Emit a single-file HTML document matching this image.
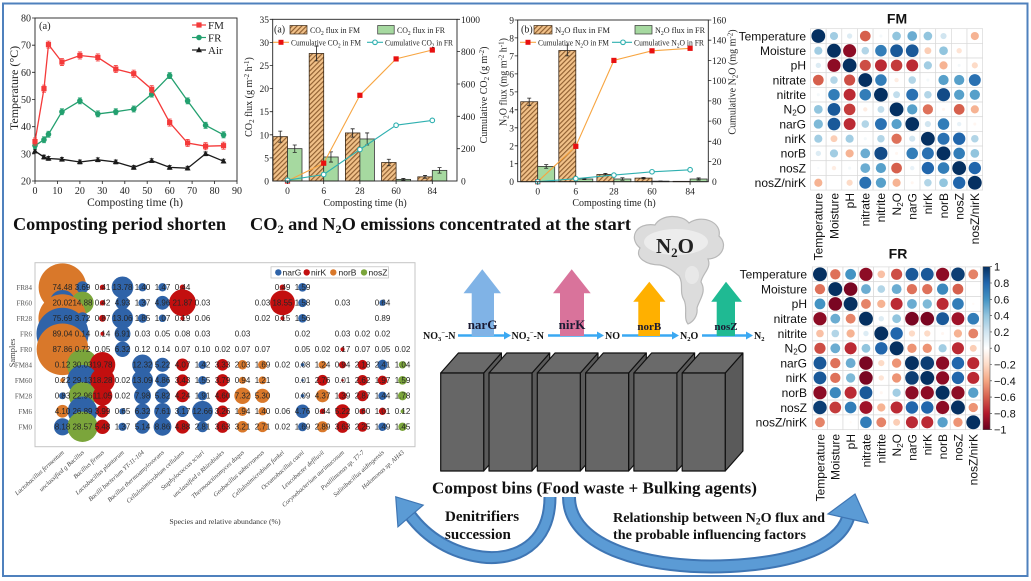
<!DOCTYPE html>
<html><head><meta charset="utf-8">
<style>
html,body{margin:0;padding:0;background:#fff;}
svg{display:block;}
.s{font-family:"Liberation Serif",serif;}
.a{font-family:"Liberation Sans",sans-serif;}
</style></head><body>
<svg id="c" width="1031" height="581" viewBox="0 0 1031 581" xmlns="http://www.w3.org/2000/svg">
<defs>
<pattern id="hatch" width="3.4" height="3.4" patternUnits="userSpaceOnUse" patternTransform="rotate(45)">
<rect width="3.4" height="3.4" fill="#f1c189"/>
<line x1="0.6" y1="0" x2="0.6" y2="3.4" stroke="#8a5a2c" stroke-width="1.1"/>
</pattern>
<linearGradient id="cbar" x1="0" y1="0" x2="0" y2="1">
<stop offset="0" stop-color="#053061"/><stop offset="0.1" stop-color="#2166AC"/><stop offset="0.2" stop-color="#4393C3"/><stop offset="0.3" stop-color="#92C5DE"/><stop offset="0.4" stop-color="#D1E5F0"/><stop offset="0.5" stop-color="#FFFFFF"/><stop offset="0.6" stop-color="#FDDBC7"/><stop offset="0.7" stop-color="#F4A582"/><stop offset="0.8" stop-color="#D6604D"/><stop offset="0.9" stop-color="#B2182B"/><stop offset="1" stop-color="#67001F"/>
</linearGradient>
</defs>
<rect width="1031" height="581" fill="#fff"/>

<!-- ============ Chart 1: temperature ============ -->
<g class="s" font-size="10" fill="#222">
<rect x="35" y="18" width="202" height="163" fill="none" stroke="#222" stroke-width="0.9"/>
<path d="M32 18H35M32 45.2H35M32 72.3H35M32 99.5H35M32 126.7H35M32 153.8H35M32 181H35M35 181V184M57.4 181V184M79.9 181V184M102.3 181V184M124.8 181V184M147.2 181V184M169.7 181V184M192.1 181V184M214.6 181V184M237 181V184" stroke="#222" stroke-width="0.8"/>
<g text-anchor="end"><text x="31" y="21.5">80</text><text x="31" y="48.7">70</text><text x="31" y="75.8">60</text><text x="31" y="103">50</text><text x="31" y="130.2">40</text><text x="31" y="157.3">30</text><text x="31" y="184.5">20</text></g>
<g text-anchor="middle"><text x="35" y="194">0</text><text x="57.4" y="194">10</text><text x="79.9" y="194">20</text><text x="102.3" y="194">30</text><text x="124.8" y="194">40</text><text x="147.2" y="194">50</text><text x="169.7" y="194">60</text><text x="192.1" y="194">70</text><text x="214.6" y="194">80</text><text x="237" y="194">90</text></g>
<text x="135" y="206" text-anchor="middle" font-size="11.5">Composting time  (h)</text>
<text transform="translate(18,88) rotate(-90)" text-anchor="middle" font-size="12">Temperature (°C)</text>
<text x="39" y="29" font-size="10.5">(a)</text>
<g id="g1"></g>
<g font-size="11">
<line x1="192" y1="25" x2="206" y2="25" stroke="#f43a3a" stroke-width="1.2"/><rect x="196.4" y="22.4" width="5.2" height="5.2" fill="#f43a3a"/><text x="208" y="29">FM</text>
<line x1="192" y1="37.5" x2="206" y2="37.5" stroke="#23a06f" stroke-width="1.2"/><circle cx="199" cy="37.5" r="2.8" fill="#23a06f"/><text x="208" y="41.5">FR</text>
<line x1="192" y1="50" x2="206" y2="50" stroke="#1a1a1a" stroke-width="1.2"/><path d="M199 46.8L202 52.2L196 52.2Z" fill="#1a1a1a"/><text x="208" y="54">Air</text>
</g>
</g>
<text class="s" x="13" y="230" font-size="18" font-weight="bold" fill="#111" textLength="213" lengthAdjust="spacingAndGlyphs">Composting period shorten</text>

<!-- ============ Chart 2: CO2 ============ -->
<g class="s" font-size="9.5" fill="#222">
<g id="g2"></g>
<rect x="272.7" y="19.3" width="184.3" height="161.7" fill="none" stroke="#222" stroke-width="0.9"/>
<path d="M269.7 19.3H272.7M269.7 42.4H272.7M269.7 65.5H272.7M269.7 88.6H272.7M269.7 111.7H272.7M269.7 134.8H272.7M269.7 157.9H272.7M457 19.3H460M457 51.6H460M457 84H460M457 116.3H460M457 148.7H460M287.5 181V184M323.7 181V184M359.9 181V184M396.1 181V184M432.3 181V184" stroke="#222" stroke-width="0.8"/>
<g text-anchor="end"><text x="269" y="22.8">35</text><text x="269" y="45.9">30</text><text x="269" y="69">25</text><text x="269" y="92.1">20</text><text x="269" y="115.2">15</text><text x="269" y="138.3">10</text><text x="269" y="161.4">5</text><text x="269" y="184.5">0</text></g>
<g><text x="461" y="22.8">1000</text><text x="461" y="55.1">800</text><text x="461" y="87.5">600</text><text x="461" y="119.8">400</text><text x="461" y="152.2">200</text><text x="461" y="184.5">0</text></g>
<g text-anchor="middle"><text x="287.5" y="194">0</text><text x="323.7" y="194">6</text><text x="359.9" y="194">28</text><text x="396.1" y="194">60</text><text x="432.3" y="194">84</text></g>
<text x="365" y="206" text-anchor="middle" font-size="10">Composting time (h)</text>
<text transform="translate(252,97) rotate(-90)" text-anchor="middle" font-size="10">CO<tspan dy="2" font-size="7">2</tspan><tspan dy="-2"> flux (g m</tspan><tspan dy="-3" font-size="7">-2</tspan><tspan dy="3"> h</tspan><tspan dy="-3" font-size="7">-1</tspan><tspan dy="3">)</tspan></text>
<text transform="translate(487,95) rotate(-90)" text-anchor="middle" font-size="10">Cumulative CO<tspan dy="2" font-size="7">2</tspan><tspan dy="-2"> (g m</tspan><tspan dy="-3" font-size="7">-2</tspan><tspan dy="3">)</tspan></text>
<g font-size="8.5">
<text x="274" y="32.5" font-size="10">(a)</text>
<rect x="290" y="25.5" width="17" height="8.5" fill="url(#hatch)" stroke="#3a2a1a" stroke-width="0.7"/><text x="310" y="33" textLength="50" lengthAdjust="spacingAndGlyphs">CO<tspan dy="2" font-size="6">2</tspan><tspan dy="-2"> flux in FM</tspan></text>
<rect x="377.7" y="25.5" width="16.5" height="8.5" fill="#a6d9a0" stroke="#333" stroke-width="0.7"/><text x="397" y="33" textLength="48" lengthAdjust="spacingAndGlyphs">CO<tspan dy="2" font-size="6">2</tspan><tspan dy="-2"> flux in FR</tspan></text>
<line x1="273" y1="42.3" x2="289" y2="42.3" stroke="#f7a541" stroke-width="1.1"/><rect x="278.5" y="39.8" width="5" height="5" fill="#e81010"/><text x="291" y="45.5" textLength="70" lengthAdjust="spacingAndGlyphs">Cumulative CO<tspan dy="2" font-size="6">2</tspan><tspan dy="-2"> in FM</tspan></text>
<line x1="367" y1="42.3" x2="383" y2="42.3" stroke="#2fb0b0" stroke-width="1.1"/><circle cx="375" cy="42.3" r="2.3" fill="#fff" stroke="#2fb0b0" stroke-width="1.1"/><text x="385" y="45.5" textLength="68" lengthAdjust="spacingAndGlyphs">Cumulative CO<tspan dy="2" font-size="6">2</tspan><tspan dy="-2"> in FR</tspan></text>
</g>
</g>

<!-- ============ Chart 3: N2O ============ -->
<g class="s" font-size="9.5" fill="#222">
<g id="g3"></g>
<rect x="517.7" y="20" width="190.6" height="161.7" fill="none" stroke="#222" stroke-width="0.9"/>
<path d="M514.7 20H517.7M514.7 37.9H517.7M514.7 55.9H517.7M514.7 73.9H517.7M514.7 91.85H517.7M514.7 109.8H517.7M514.7 127.8H517.7M514.7 145.8H517.7M514.7 163.7H517.7M708.3 20H711.3M708.3 40.2H711.3M708.3 60.4H711.3M708.3 80.6H711.3M708.3 100.9H711.3M708.3 121.1H711.3M708.3 141.3H711.3M708.3 161.5H711.3M537.7 181.7V184.7M575.8 181.7V184.7M613.9 181.7V184.7M652 181.7V184.7M690.1 181.7V184.7" stroke="#222" stroke-width="0.8"/>
<g text-anchor="end"><text x="514" y="23.5">9</text><text x="514" y="41.4">8</text><text x="514" y="59.4">7</text><text x="514" y="77.4">6</text><text x="514" y="95.3">5</text><text x="514" y="113.3">4</text><text x="514" y="131.3">3</text><text x="514" y="149.3">2</text><text x="514" y="167.2">1</text><text x="514" y="185.2">0</text></g>
<g><text x="712" y="23.5">160</text><text x="712" y="43.7">140</text><text x="712" y="63.9">120</text><text x="712" y="84.1">100</text><text x="712" y="104.4">80</text><text x="712" y="124.6">60</text><text x="712" y="144.8">40</text><text x="712" y="165">20</text><text x="712" y="185.2">0</text></g>
<g text-anchor="middle"><text x="537.7" y="194.5">0</text><text x="575.8" y="194.5">6</text><text x="613.9" y="194.5">28</text><text x="652" y="194.5">60</text><text x="690.1" y="194.5">84</text></g>
<text x="614" y="206" text-anchor="middle" font-size="10">Composting time (h)</text>
<text transform="translate(506.5,82) rotate(-90)" text-anchor="middle" font-size="10">N<tspan dy="2" font-size="7">2</tspan><tspan dy="-2">O flux (mg m</tspan><tspan dy="-3" font-size="7">-2</tspan><tspan dy="3"> h</tspan><tspan dy="-3" font-size="7">-1</tspan><tspan dy="3">)</tspan></text>
<text transform="translate(735.5,82) rotate(-90)" text-anchor="middle" font-size="10">Cumulative N<tspan dy="2" font-size="7">2</tspan><tspan dy="-2">O (mg m</tspan><tspan dy="-3" font-size="7">-2</tspan><tspan dy="3">)</tspan></text>
<g font-size="8.5">
<text x="521" y="32.5" font-size="10">(b)</text>
<rect x="534" y="25.5" width="18" height="8.5" fill="url(#hatch)" stroke="#3a2a1a" stroke-width="0.7"/><text x="555" y="33" textLength="55" lengthAdjust="spacingAndGlyphs">N<tspan dy="2" font-size="6">2</tspan><tspan dy="-2">O flux in FM</tspan></text>
<rect x="635" y="25.5" width="17" height="8.5" fill="#a6d9a0" stroke="#333" stroke-width="0.7"/><text x="655" y="33" textLength="50" lengthAdjust="spacingAndGlyphs">N<tspan dy="2" font-size="6">2</tspan><tspan dy="-2">O flux in FR</tspan></text>
<line x1="520" y1="42.3" x2="536" y2="42.3" stroke="#f7a541" stroke-width="1.1"/><rect x="525.5" y="39.8" width="5" height="5" fill="#e81010"/><text x="538" y="45.5" textLength="71" lengthAdjust="spacingAndGlyphs">Cumulative N<tspan dy="2" font-size="6">2</tspan><tspan dy="-2">O in FM</tspan></text>
<line x1="612" y1="42.3" x2="632" y2="42.3" stroke="#2fb0b0" stroke-width="1.1"/><circle cx="623" cy="42.3" r="2.3" fill="#fff" stroke="#2fb0b0" stroke-width="1.1"/><text x="634" y="45.5" textLength="70" lengthAdjust="spacingAndGlyphs">Cumulative N<tspan dy="2" font-size="6">2</tspan><tspan dy="-2">O in FR</tspan></text>
</g>
</g>
<text class="s" x="250" y="230" font-size="18" font-weight="bold" fill="#111" textLength="381" lengthAdjust="spacingAndGlyphs">CO<tspan dy="3" font-size="12">2</tspan><tspan dy="-3"> and N</tspan><tspan dy="3" font-size="12">2</tspan><tspan dy="-3">O emissions concentrated at the start</tspan></text>

<!-- ============ FM correlation ============ -->
<g class="a" fill="#111">
<text x="897" y="23.5" text-anchor="middle" font-size="14" font-weight="bold">FM</text>
<g id="gfm"></g>
<g font-size="12" text-anchor="end">
<text x="806" y="40.3">Temperature</text><text x="806" y="55">Moisture</text><text x="806" y="69.6">pH</text><text x="806" y="84.3">nitrate</text><text x="806" y="99">nitrite</text><text x="806" y="113.7">N<tspan dy="2" font-size="8">2</tspan><tspan dy="-2">O</tspan></text><text x="806" y="128.3">narG</text><text x="806" y="143">nirK</text><text x="806" y="157.7">norB</text><text x="806" y="172.3">nosZ</text><text x="806" y="187">nosZ/nirK</text>
<text transform="translate(822.6,193) rotate(-90)">Temperature</text>
<text transform="translate(838.3,193) rotate(-90)">Moisture</text>
<text transform="translate(853.9,193) rotate(-90)">pH</text>
<text transform="translate(869.6,193) rotate(-90)">nitrate</text>
<text transform="translate(885.2,193) rotate(-90)">nitrite</text>
<text transform="translate(900.9,193) rotate(-90)">N<tspan dy="2" font-size="8">2</tspan><tspan dy="-2">O</tspan></text>
<text transform="translate(916.5,193) rotate(-90)">narG</text>
<text transform="translate(932.2,193) rotate(-90)">nirK</text>
<text transform="translate(947.8,193) rotate(-90)">norB</text>
<text transform="translate(963.5,193) rotate(-90)">nosZ</text>
<text transform="translate(979.1,193) rotate(-90)">nosZ/nirK</text>
</g>
</g>

<!-- ============ FR correlation ============ -->
<g class="a" fill="#111">
<text x="898" y="258.5" text-anchor="middle" font-size="14" font-weight="bold">FR</text>
<g id="gfr"></g>
<g font-size="12" text-anchor="end">
<text x="807" y="278.6">Temperature</text><text x="807" y="293.4">Moisture</text><text x="807" y="308.2">pH</text><text x="807" y="323">nitrate</text><text x="807" y="337.8">nitrite</text><text x="807" y="352.6">N<tspan dy="2" font-size="8">2</tspan><tspan dy="-2">O</tspan></text><text x="807" y="367.4">narG</text><text x="807" y="382.2">nirK</text><text x="807" y="397">norB</text><text x="807" y="411.8">nosZ</text><text x="807" y="426.6">nosZ/nirK</text>
<text transform="translate(824.3,434) rotate(-90)">Temperature</text>
<text transform="translate(839.6,434) rotate(-90)">Moisture</text>
<text transform="translate(855,434) rotate(-90)">pH</text>
<text transform="translate(870.3,434) rotate(-90)">nitrate</text>
<text transform="translate(885.6,434) rotate(-90)">nitrite</text>
<text transform="translate(901,434) rotate(-90)">N<tspan dy="2" font-size="8">2</tspan><tspan dy="-2">O</tspan></text>
<text transform="translate(916.3,434) rotate(-90)">narG</text>
<text transform="translate(931.6,434) rotate(-90)">nirK</text>
<text transform="translate(946.9,434) rotate(-90)">norB</text>
<text transform="translate(962.3,434) rotate(-90)">nosZ</text>
<text transform="translate(977.6,434) rotate(-90)">nosZ/nirK</text>
</g>
<rect x="983" y="266.7" width="7" height="163" fill="url(#cbar)" stroke="#555" stroke-width="0.6"/>
<path d="M990 266.7h2M990 283h2M990 299.3h2M990 315.6h2M990 331.9h2M990 348.2h2M990 364.5h2M990 380.8h2M990 397.1h2M990 413.4h2M990 429.7h2" stroke="#333" stroke-width="0.6"/>
<g font-size="11"><text x="994" y="270.7">1</text><text x="994" y="287">0.8</text><text x="994" y="303.3">0.6</text><text x="994" y="319.6">0.4</text><text x="994" y="335.9">0.2</text><text x="994" y="352.2">0</text><text x="994" y="368.5">−0.2</text><text x="994" y="384.8">−0.4</text><text x="994" y="401.1">−0.6</text><text x="994" y="417.4">−0.8</text><text x="994" y="433.7">−1</text></g>
</g>

<!-- ============ Bubble chart ============ -->
<rect x="35" y="262.7" width="380" height="184" fill="#fff" stroke="#c4c4c4" stroke-width="1"/>
<g id="gb"></g>
<g class="a" font-size="8" fill="#262626" text-anchor="middle">
<g transform="translate(0,290)"><text x="62.5">74.48</text><text x="82.5">3.69</text><text x="102.5">0.41</text><text x="122.5">13.78</text><text x="142.5">1.40</text><text x="162.5">1.47</text><text x="182.5">0.44</text><text x="282.5">0.49</text><text x="302.5">1.59</text></g>
<g transform="translate(0,305.5)"><text x="62.5">20.02</text><text x="82.5">14.88</text><text x="102.5">0.42</text><text x="122.5">4.93</text><text x="142.5">1.37</text><text x="162.5">4.96</text><text x="182.5">21.87</text><text x="202.5">0.03</text><text x="262.5">0.03</text><text x="282.5">18.55</text><text x="302.5">1.58</text><text x="342.5">0.03</text><text x="382.5">0.64</text></g>
<g transform="translate(0,321)"><text x="62.5">75.69</text><text x="82.5">3.72</text><text x="102.5">0.87</text><text x="122.5">13.06</text><text x="142.5">1.85</text><text x="162.5">1.07</text><text x="182.5">0.19</text><text x="202.5">0.06</text><text x="262.5">0.02</text><text x="282.5">0.15</text><text x="302.5">1.56</text><text x="382.5">0.89</text></g>
<g transform="translate(0,336.5)"><text x="62.5">89.04</text><text x="82.5">0.14</text><text x="102.5">0.14</text><text x="122.5">6.91</text><text x="142.5">0.03</text><text x="162.5">0.05</text><text x="182.5">0.08</text><text x="202.5">0.03</text><text x="242.5">0.03</text><text x="302.5">0.02</text><text x="342.5">0.03</text><text x="362.5">0.02</text><text x="382.5">0.02</text></g>
<g transform="translate(0,352)"><text x="62.5">87.86</text><text x="82.5">0.72</text><text x="102.5">0.05</text><text x="122.5">6.32</text><text x="142.5">0.12</text><text x="162.5">0.14</text><text x="182.5">0.07</text><text x="202.5">0.10</text><text x="222.5">0.02</text><text x="242.5">0.07</text><text x="262.5">0.07</text><text x="302.5">0.05</text><text x="322.5">0.02</text><text x="342.5">0.17</text><text x="362.5">0.07</text><text x="382.5">0.05</text><text x="402.5">0.02</text></g>
<g transform="translate(0,367.5)"><text x="62.5">0.12</text><text x="82.5">30.03</text><text x="102.5">19.78</text><text x="142.5">12.32</text><text x="162.5">5.22</text><text x="182.5">4.07</text><text x="202.5">1.42</text><text x="222.5">3.33</text><text x="242.5">2.03</text><text x="262.5">1.69</text><text x="282.5">0.02</text><text x="302.5">0.08</text><text x="322.5">1.24</text><text x="342.5">0.94</text><text x="362.5">2.18</text><text x="382.5">2.41</text><text x="402.5">1.04</text></g>
<g transform="translate(0,383)"><text x="62.5">0.22</text><text x="82.5">29.13</text><text x="102.5">18.28</text><text x="122.5">0.02</text><text x="142.5">13.09</text><text x="162.5">4.86</text><text x="182.5">3.43</text><text x="202.5">1.55</text><text x="222.5">3.79</text><text x="242.5">0.94</text><text x="262.5">1.21</text><text x="302.5">0.01</text><text x="322.5">2.76</text><text x="342.5">0.01</text><text x="362.5">2.62</text><text x="382.5">1.97</text><text x="402.5">1.59</text></g>
<g transform="translate(0,398.5)"><text x="62.5">0.83</text><text x="82.5">22.96</text><text x="102.5">11.05</text><text x="122.5">0.02</text><text x="142.5">7.98</text><text x="162.5">5.82</text><text x="182.5">4.24</text><text x="202.5">1.91</text><text x="222.5">4.60</text><text x="242.5">7.32</text><text x="262.5">5.30</text><text x="302.5">0.09</text><text x="322.5">4.37</text><text x="342.5">1.39</text><text x="362.5">2.87</text><text x="382.5">1.44</text><text x="402.5">1.78</text></g>
<g transform="translate(0,414)"><text x="62.5">4.10</text><text x="82.5">26.89</text><text x="102.5">3.99</text><text x="122.5">0.65</text><text x="142.5">6.32</text><text x="162.5">7.61</text><text x="182.5">3.17</text><text x="202.5">12.66</text><text x="222.5">3.26</text><text x="242.5">1.94</text><text x="262.5">1.40</text><text x="282.5">0.06</text><text x="302.5">4.76</text><text x="322.5">0.44</text><text x="342.5">5.22</text><text x="362.5">0.60</text><text x="382.5">1.01</text><text x="402.5">0.12</text></g>
<g transform="translate(0,429.5)"><text x="62.5">8.18</text><text x="82.5">28.57</text><text x="102.5">5.48</text><text x="122.5">1.37</text><text x="142.5">5.14</text><text x="162.5">8.86</text><text x="182.5">4.88</text><text x="202.5">2.81</text><text x="222.5">3.63</text><text x="242.5">3.21</text><text x="262.5">2.71</text><text x="282.5">0.02</text><text x="302.5">1.69</text><text x="322.5">2.89</text><text x="342.5">3.63</text><text x="362.5">2.25</text><text x="382.5">1.49</text><text x="402.5">1.45</text></g>
</g>
<g class="s" font-size="7" fill="#555" text-anchor="end">
<text x="32" y="289.8">FR84</text><text x="32" y="305.3">FR60</text><text x="32" y="320.8">FR28</text><text x="32" y="336.3">FR6</text><text x="32" y="351.8">FR0</text><text x="32" y="367.3">FM84</text><text x="32" y="382.8">FM60</text><text x="32" y="398.3">FM28</text><text x="32" y="413.8">FM6</text><text x="32" y="429.3">FM0</text>
</g>
<text class="s" transform="translate(15,353) rotate(-90)" font-size="8.5" fill="#444" text-anchor="middle">Samples</text>
<g class="a" font-size="8.5" fill="#222">
<rect x="271" y="266.8" width="117.5" height="11.2" fill="#fff" stroke="#bbb" stroke-width="0.7"/>
<circle cx="278.3" cy="272.4" r="3.2" fill="#2f63a8"/><text x="282.5" y="275.5">narG</text>
<circle cx="306.7" cy="272.4" r="3.2" fill="#c30f0f"/><text x="311" y="275.5">nirK</text>
<circle cx="333.3" cy="272.4" r="3.2" fill="#d9782a"/><text x="338.5" y="275.5">norB</text>
<circle cx="364" cy="272.4" r="3.2" fill="#7ba53b"/><text x="368.5" y="275.5">nosZ</text>
</g>
<g class="s" font-size="6.4" font-style="italic" fill="#444" text-anchor="end">
<text transform="translate(64.5,453) rotate(-42)">Lactobacillus fermentum</text>
<text transform="translate(84.5,453) rotate(-42)">unclassified g Bacillus</text>
<text transform="translate(104.5,453) rotate(-42)">Bacillus firmus</text>
<text transform="translate(124.5,453) rotate(-42)">Lactobacillus plantarum</text>
<text transform="translate(144.5,453) rotate(-42)">Bacilli bacterium YT-11-104</text>
<text transform="translate(164.5,453) rotate(-42)">Bacillus thermoamylovorans</text>
<text transform="translate(184.5,453) rotate(-42)">Cellulosimicrobium cellulans</text>
<text transform="translate(204.5,453) rotate(-42)">Staphylococcus sciuri</text>
<text transform="translate(224.5,453) rotate(-42)">unclassified o Rhizobiales</text>
<text transform="translate(244.5,453) rotate(-42)">Thermoactinomyces daqus</text>
<text transform="translate(264.5,453) rotate(-42)">Geobacillus subterraneus</text>
<text transform="translate(284.5,453) rotate(-42)">Cellulosimicrobium funkei</text>
<text transform="translate(304.5,453) rotate(-42)">Oceanobacillus caeni</text>
<text transform="translate(324.5,453) rotate(-42)">Leucobacter deflluvii</text>
<text transform="translate(344.5,453) rotate(-42)">Corynebacterium aurimucosum</text>
<text transform="translate(364.5,453) rotate(-42)">Pusillimonas sp. T7-7</text>
<text transform="translate(384.5,453) rotate(-42)">Salinibacillus aidingensis</text>
<text transform="translate(404.5,453) rotate(-42)">Halomonas sp. AH43</text>
</g>
<text class="s" x="225" y="524" font-size="7.8" fill="#333" text-anchor="middle">Species and relative abundance (%)</text>

<!-- ============ Center diagram ============ -->
<g>
<path d="M640 248 C628 238,636 222,655 225 C661 214,682 214,689 223 C702 214,722 222,719 236 C729 245,721 259,708 259 C712 268,702 274,701 282 C707 292,699 300,697 308 C698 316,693 322,688 324 C683 318,688 308,684 300 C679 292,684 284,679 276 C672 270,668 267,660 265 C647 265,634 258,640 248 Z" fill="#dcdcdc" stroke="#b8b8b8" stroke-width="1.2"/>
<ellipse cx="676" cy="242" rx="32" ry="13" fill="#ececec"/>
<ellipse cx="692" cy="275" rx="7" ry="9" fill="#e8e8e8"/>
<text class="s" x="675" y="253" font-size="21" font-weight="bold" fill="#222" text-anchor="middle">N<tspan dy="4" font-size="13">2</tspan><tspan dy="-4">O</tspan></text>
</g>
<g stroke="#3aa8f2" stroke-width="2.4" fill="none">
<path d="M458 335.5H506M548 335.5H599M622 335.5H674M702 335.5H748"/>
</g>
<g fill="#3aa8f2">
<path d="M511 335.5L504 331.5L504 339.5Z"/><path d="M604 335.5L597 331.5L597 339.5Z"/><path d="M679 335.5L672 331.5L672 339.5Z"/><path d="M753 335.5L746 331.5L746 339.5Z"/>
</g>
<polygon points="482.3,269.3 501,293.3 494,293.3 494,336 471.7,336 471.7,293.3 463.5,293.3" fill="#80b3e6"/>
<polygon points="571.7,269.3 590.7,293.3 584,293.3 584,336 560,336 560,293.3 553,293.3" fill="#d9739b"/>
<polygon points="649.3,281.7 665.5,301.7 660,301.7 660,336 638.3,336 638.3,301.7 633.2,301.7" fill="#ffb000"/>
<polygon points="726,281.7 742,301.7 735,301.7 735,336 716.7,336 716.7,301.7 711.2,301.7" fill="#1fba93"/>
<g class="s" font-weight="bold" fill="#1b1b33" text-anchor="middle">
<text x="482.5" y="329" font-size="13">narG</text>
<text x="572" y="329" font-size="13">nirK</text>
<text x="649.3" y="330" font-size="11">norB</text>
<text x="726" y="330" font-size="11">nosZ</text>
</g>
<g class="s" font-weight="bold" fill="#111" font-size="10">
<text x="423" y="339">NO<tspan dy="2" font-size="6.5">3</tspan><tspan dy="-6" font-size="6.5">−</tspan><tspan dy="4">-N</tspan></text>
<text x="511.5" y="339">NO<tspan dy="2" font-size="6.5">2</tspan><tspan dy="-6" font-size="6.5">−</tspan><tspan dy="4">-N</tspan></text>
<text x="605" y="339">NO</text>
<text x="680" y="339">N<tspan dy="2" font-size="6.5">2</tspan><tspan dy="-2">O</tspan></text>
<text x="754" y="339">N<tspan dy="2" font-size="6.5">2</tspan></text>
</g>
<g id="bins" stroke="#111" stroke-width="1.2" stroke-linejoin="round"></g>
<text class="s" x="432" y="493.5" font-size="16.5" font-weight="bold" fill="#111" textLength="325" lengthAdjust="spacingAndGlyphs">Compost bins (Food waste + Bulking agents)</text>

<!-- curved arrows -->
<g fill="none" stroke-linecap="butt">
<path d="M550 497 C550 545,515 561,482 557 C452 553,427 538,410 515" stroke="#3f76b4" stroke-width="13"/>
<path d="M550 497 C550 545,515 561,482 557 C452 553,427 538,410 515" stroke="#5b9bd5" stroke-width="9"/>
<path d="M569 497 C569 548,650 570,730 566 C790 563,838 548,848 518" stroke="#3f76b4" stroke-width="14"/>
<path d="M569 497 C569 548,650 570,730 566 C790 563,838 548,848 518" stroke="#5b9bd5" stroke-width="10"/>
</g>
<polygon points="398,495 424,507 396,525" fill="#5b9bd5" stroke="#3f76b4" stroke-width="1.2" transform="rotate(-8 410 512)"/>
<polygon points="855,494 868,523 828,514" fill="#5b9bd5" stroke="#3f76b4" stroke-width="1.2"/>
<g class="s" font-weight="bold" fill="#111">
<text x="445" y="521" font-size="15">Denitrifiers</text>
<text x="445" y="539" font-size="15">succession</text>
<text x="613" y="522" font-size="13.5" textLength="212" lengthAdjust="spacingAndGlyphs">Relationship between N<tspan dy="2.5" font-size="9">2</tspan><tspan dy="-2.5">O flux and</tspan></text>
<text x="613" y="539" font-size="13.5" textLength="193" lengthAdjust="spacingAndGlyphs">the probable influencing factors</text>
</g>

<!-- frame -->
<rect x="3" y="3.5" width="1024.5" height="572.5" fill="none" stroke="#4f81bd" stroke-width="2"/>

<script>
(function(){
var NS="http://www.w3.org/2000/svg";
function el(p,t,a){var e=document.createElementNS(NS,t);for(var k in a)e.setAttribute(k,a[k]);p.appendChild(e);return e;}
function G(id){return document.getElementById(id);}
function marker(p,m,x,y,c){
 if(m=='s') el(p,'rect',{x:x-2.6,y:y-2.6,width:5.2,height:5.2,fill:c});
 else if(m=='c') el(p,'circle',{cx:x,cy:y,r:2.8,fill:c});
 else if(m=='t') el(p,'path',{d:'M'+x+' '+(y-3.2)+'L'+(x+3)+' '+(y+2.2)+'L'+(x-3)+' '+(y+2.2)+'Z',fill:c});
 else if(m=='o') el(p,'circle',{cx:x,cy:y,r:2.3,fill:'#fff',stroke:c,'stroke-width':1.1});
}
var g1=G('g1');
var X=function(t){return 35+t*202/90;}, Y=function(v){return 181-(v-20)*163/60;};
var ts=[0,4,6,12,20,28,36,44,52,60,68,76,84];
var S=[
 {d:[31,28.8,28.3,28,27,27.8,27,25,27.5,25,24.7,30,27.3],c:'#1a1a1a',m:'t',e:0.7},
 {d:[33,35.2,37.2,45.5,49.5,44.7,45.5,46.5,52,58.8,49.5,40.5,37],c:'#23a06f',m:'c',e:1.1},
 {d:[34.5,54,70.2,63.8,66.2,65.5,61.2,59.5,53.8,41.5,34,32.8,33],c:'#f43a3a',m:'s',e:1.3}
];
S.forEach(function(s){
 el(g1,'polyline',{points:ts.map(function(t,i){return X(t).toFixed(1)+','+Y(s.d[i]).toFixed(1);}).join(' '),fill:'none',stroke:s.c,'stroke-width':1.3});
 ts.forEach(function(t,i){var x=X(t),y=Y(s.d[i]),ey=s.e*163/60;
  el(g1,'path',{d:'M'+x+' '+(y-ey)+'V'+(y+ey)+'M'+(x-2)+' '+(y-ey)+'H'+(x+2)+'M'+(x-2)+' '+(y+ey)+'H'+(x+2),stroke:s.c,'stroke-width':0.8,fill:'none'});
  marker(g1,s.m,x,y,s.c);
 });
});
function eb(p,x,v,e,Yl){ if(!e) return; var a=Yl(v+e),b=Yl(Math.max(0,v-e)); el(p,'path',{d:'M'+x+' '+a+'V'+b+'M'+(x-2)+' '+a+'H'+(x+2)+'M'+(x-2)+' '+b+'H'+(x+2),stroke:'#222','stroke-width':0.8,fill:'none'});}
function bars(p,cx,bw,fm,fme,fr,fre,Yl,base){
 cx.forEach(function(c,i){
  var y1=Yl(fm[i]); el(p,'rect',{x:c-bw,y:y1,width:bw,height:Math.max(0.3,base-y1),fill:'url(#hatch)',stroke:'#3a2a1a','stroke-width':0.8});
  var y2=Yl(fr[i]); el(p,'rect',{x:c,y:y2,width:bw,height:Math.max(0.3,base-y2),fill:'#a6d9a0',stroke:'#333','stroke-width':0.8});
  eb(p,c-bw/2,fm[i],fme[i],Yl); eb(p,c+bw/2,fr[i],fre[i],Yl);
 });
}
function cum(p,cx,d,Yr,c,mc,m){
 el(p,'polyline',{points:cx.map(function(x,i){return x+','+Yr(d[i]).toFixed(1);}).join(' '),fill:'none',stroke:c,'stroke-width':1.1});
 cx.forEach(function(x,i){marker(p,m,x,Yr(d[i]),mc);});
}
var g2=G('g2'), c2=[287.5,323.7,359.9,396.1,432.3];
var Yl2=function(v){return 181-v*161.7/35;}, Yr2=function(v){return 181-v*0.1617;};
bars(g2,c2,14.5,[9.6,27.6,10.4,4.0,0.9],[1.2,1.6,0.9,0.7,0.3],[7.0,5.2,9.1,0.35,2.3],[0.8,1.1,1.3,0.2,0.6],Yl2,181);
cum(g2,c2,[0,110,530,755,810],Yr2,'#f7a541','#e81010','s');
cum(g2,c2,[5,40,195,345,375],Yr2,'#2fb0b0','#2fb0b0','o');
var g3=G('g3'), c3=[537.7,575.8,613.9,652,690.1];
var Yl3=function(v){return 181.7-v*17.97;}, Yr3=function(v){return 181.7-v*1.0106;};
bars(g3,c3,17,[4.45,7.3,0.4,0.2,0.02],[0.2,0.3,0.06,0.04,0],[0.85,0.15,0.15,0.03,0.15],[0.1,0.03,0.07,0.01,0.06],Yl3,181.7);
cum(g3,c3,[0,35,120,129.5,132],Yr3,'#f7a541','#e81010','s');
cum(g3,c3,[0,3,6.5,9.8,11.8],Yr3,'#2fb0b0','#2fb0b0','o');
var st=["#67001F","#B2182B","#D6604D","#F4A582","#FDDBC7","#FFFFFF","#D1E5F0","#92C5DE","#4393C3","#2166AC","#053061"];
function hx(h){return [parseInt(h.substr(1,2),16),parseInt(h.substr(3,2),16),parseInt(h.substr(5,2),16)];}
function cc(r){var t=(r+1)/2*10,i=Math.min(9,Math.floor(t)),f=t-i,a=hx(st[i]),b=hx(st[i+1]);
 return 'rgb('+[0,1,2].map(function(k){return Math.round(a[k]+(b[k]-a[k])*f);}).join(',')+')';}
function corr(p,x0,y0,w,h,M){
 for(var j=0;j<11;j++)for(var i=0;i<11;i++)
  el(p,'rect',{x:x0+i*w,y:y0+j*h,width:w,height:h,fill:'#fff',stroke:'#d9d9d9','stroke-width':0.7});
 var R=0.47*Math.min(w,h);
 for(var j=0;j<11;j++)for(var i=0;i<11;i++){var r=M[j][i]; if(Math.abs(r)<0.015) continue;
  el(p,'circle',{cx:x0+(i+0.5)*w,cy:y0+(j+0.5)*h,r:R*Math.sqrt(Math.abs(r)),fill:cc(r)});}
}
var FM=[
[1,0.35,0.15,-0.6,0.05,0.4,0.5,0.4,0.2,0,-0.35],
[0.35,1,-0.9,0.3,0.7,0.85,0.85,-0.25,0.4,-0.15,0],
[0.15,-0.9,1,-0.65,-0.75,-0.7,-0.75,0.35,-0.35,0.05,-0.2],
[-0.6,0.3,-0.65,1,0.7,-0.1,0.3,0.05,0.55,0.55,0.75],
[0.05,0.7,-0.75,0.7,1,0.25,0.75,0.3,0.9,0.55,0.55],
[0.4,0.85,-0.7,-0.1,0.25,1,0.55,-0.55,-0.05,-0.6,-0.35],
[0.45,0.85,-0.75,0.3,0.75,0.55,1,0.2,0.7,0.1,-0.05],
[0.35,-0.25,0.35,0.05,0.3,-0.55,0.2,1,0.75,0.8,0.3],
[0.15,0.35,-0.35,0.5,0.9,-0.05,0.7,0.75,1,0.7,0.4],
[0.03,-0.1,0.05,0.5,0.55,-0.6,0.1,0.8,0.7,1,0.8],
[-0.35,0,-0.2,0.75,0.55,-0.35,-0.05,0.3,0.4,0.8,1]];
var FR=[
[1,-0.55,0.6,-0.9,-0.3,-0.65,0.85,0.85,-0.9,0.95,-0.5],
[-0.55,1,-0.95,0.5,0.3,0.5,-0.55,-0.55,0.65,-0.6,0],
[0.6,-0.95,1,-0.5,-0.35,-0.75,0.5,0.45,-0.75,0.7,-0.03],
[-0.9,0.5,-0.5,1,0.15,0.4,-0.95,-0.95,0.85,-0.85,0.7],
[-0.3,0.3,-0.35,0.15,1,0.8,-0.2,-0.2,-0.05,-0.35,-0.5],
[-0.65,0.5,-0.75,0.4,0.8,1,-0.45,-0.45,0.35,-0.75,-0.25],
[0.85,-0.55,0.5,-0.95,-0.2,-0.45,1,0.95,-0.9,0.8,-0.75],
[0.85,-0.55,0.45,-0.95,-0.15,-0.45,0.95,1,-0.9,0.8,-0.75],
[-0.9,0.65,-0.75,0.85,-0.05,0.35,-0.9,-0.9,1,-0.9,0.55],
[0.95,-0.7,0.7,-0.85,-0.35,-0.75,0.8,0.8,-0.9,1,-0.45],
[-0.5,0,-0.03,0.7,-0.5,-0.25,-0.75,-0.75,0.55,-0.45,1]];
corr(G('gfm'),810.5,28.7,15.65,14.67,FM);
corr(G('gfr'),812.3,266.9,15.33,14.8,FR);
var BC={b:'#2f63a8',r:'#c30f0f',o:'#d9782a',g:'#7ba53b'};
var rows=[
[287.3,"0o74.48 1b3.69 2r0.41 3b13.78 4b1.40 5b1.47 6r0.44 11r0.49 12b1.59"],
[302.8,"0b20.02 1g14.88 2r0.42 3b4.93 4b1.37 5b4.96 6r21.87 11r18.55 12b1.58 16b0.64"],
[318.3,"0o75.69 1b3.72 2r0.87 3b13.06 4b1.85 5b1.07 6r0.19 11r0.15 12b1.56"],
[333.8,"0b89.04 2r0.14 3b6.91"],
[349.3,"0o87.86 3b6.32 14r0.17"],
[364.8,"1g30.03 2r19.78 4b12.32 5b5.22 6r4.07 7b1.42 8r3.33 9o2.03 10o1.69 12b0.08 13o1.24 14r0.94 15r2.18 16b2.41 17g1.04"],
[380.3,"0o0.22 1b29.13 2r18.28 4b13.09 5b4.86 6r3.43 7b1.55 8r3.79 9o0.94 10o1.21 12b0.01 13r2.76 14r0.01 15r2.62 16r1.97 17g1.59"],
[395.8,"0b0.83 1g22.96 2r11.05 4b7.98 5b5.82 6r4.24 7b1.91 8r4.60 9o7.32 10o5.30 12b0.09 13o4.37 14r1.39 15r2.87 16b1.44 17g1.78"],
[411.3,"0o4.10 1b26.89 2r3.99 3b0.65 4b6.32 5b7.61 6b3.17 7b12.66 8r3.26 9o1.94 10o1.40 12b4.76 13r0.44 14r5.22 15r0.60 16r1.01 17g0.12"],
[426.8,"0b8.18 1g28.57 2r5.48 3b1.37 4b5.14 5b8.86 6r4.88 7b2.81 8r3.63 9o3.21 10o2.71 12b1.69 13o2.89 14r3.63 15r2.25 16b1.49 17g1.45"]];
var gb=G('gb');
rows.forEach(function(r){
 r[1].split(' ').forEach(function(s){var m=s.match(/^(\d+)([borg])([\d.]+)$/); if(!m) return;
  var c=+m[1],v=+m[3]; el(gb,'circle',{cx:62.5+20*c,cy:r[0],r:Math.max(1.3,1.0+2.65*Math.sqrt(v)),fill:BC[m[2]]});});
});
var gbin=G('bins');
for(var i=0;i<6;i++){var x=440.7+48.3*i;
 el(gbin,'polygon',{points:(x+43)+',373 '+(x+60.7)+',353 '+(x+60.7)+',451 '+(x+43)+',471',fill:'#5a5a5a'});
 el(gbin,'polygon',{points:x+',373 '+(x+17.7)+',353 '+(x+60.7)+',353 '+(x+43)+',373',fill:'#6a6a6a'});
 el(gbin,'rect',{x:x,y:373,width:43,height:98,fill:'#666'});
}
})();
</script>
</svg>
</body></html>
